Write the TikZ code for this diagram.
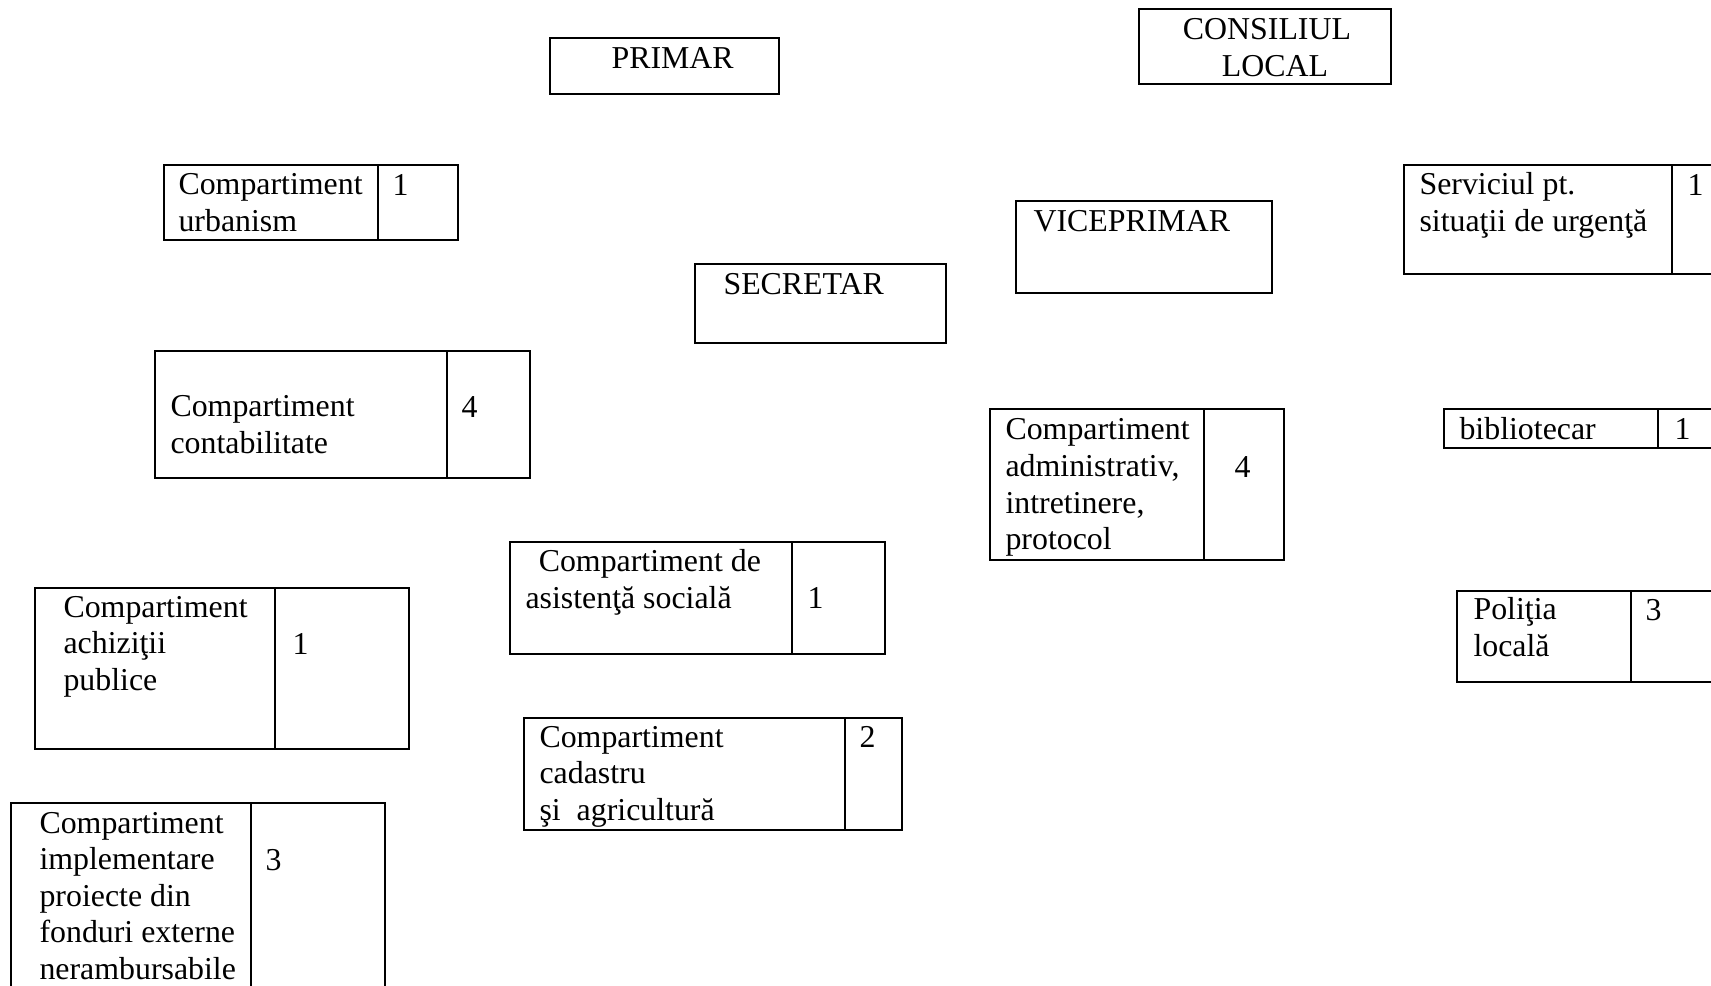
\documentclass[tikz,border=0pt]{standalone}
\usepackage{fontspec}
\setmainfont{Liberation Serif}
\usepackage{tikz}

\begin{document}
\begin{tikzpicture}[x=0.3766pt, y=-0.3766pt]

                    % Styles for the boxes and for the texts inside them
                    % (a text is placed at the baseline of its last line)
                    \tikzset{
                        cell/.style={draw, line width=0.9pt},
                        lbl/.style={anchor=base west, inner sep=0pt, align=left,
                            font=\fontsize{12}{13.8}\selectfont},
                    }

                    % Page size, boxes on the right and bottom are cut off
                    \useasboundingbox (0, 0) rectangle (1711, 985);
                    \clip (0, 0) rectangle (1711, 985);

                    % Top level boxes
                    \begin{scope}[cell]
                        \draw (550, 38) rectangle (779, 94);
                        \draw (1139, 9) rectangle (1391, 84);
                        \draw (695, 264) rectangle (946, 343);
                        \draw (1016, 201) rectangle (1272, 293);
                    \end{scope}

                    \node (primar) at (611, 68) [lbl] {PRIMAR};
                    \node (consiliu) at (1267, 76.6) [lbl, anchor=base, align=center]
                        {CONSILIUL\\\hspace*{6pt}LOCAL};
                    \node (secretar) at (723, 294) [lbl] {SECRETAR};
                    \node (viceprimar) at (1033, 231) [lbl] {VICEPRIMAR};

                    % Compartments, each box has a second cell for the number
                    \begin{scope}[cell]
                        \draw (164, 165) rectangle (458, 240);
                        \draw (378, 165) -- (378, 240);
                        \draw (155, 351) rectangle (530, 478);
                        \draw (447, 351) -- (447, 478);
                        \draw (35, 588) rectangle (409, 749);
                        \draw (275, 588) -- (275, 749);
                        \draw (11, 803) rectangle (385, 1010);
                        \draw (251, 803) -- (251, 1010);
                        \draw (510, 542) rectangle (885, 654);
                        \draw (792, 542) -- (792, 654);
                        \draw (524, 718) rectangle (902, 830);
                        \draw (845, 718) -- (845, 830);
                        \draw (990, 409) rectangle (1284, 560);
                        \draw (1204, 409) -- (1204, 560);
                        \draw (1404, 165) rectangle (1740, 274);
                        \draw (1672, 165) -- (1672, 274);
                        \draw (1444, 409) rectangle (1740, 448);
                        \draw (1658, 409) -- (1658, 448);
                        \draw (1457, 591) rectangle (1740, 682);
                        \draw (1631, 591) -- (1631, 682);
                    \end{scope}

                    \node (urbanism) at (178, 231.6) [lbl] {Compartiment\\urbanism};
                    \node (urbanismnr) at (392, 195) [lbl] {1};
                    \node (contab) at (170, 453.6) [lbl] {Compartiment\\contabilitate};
                    \node (contabnr) at (461, 417) [lbl] {4};
                    \node (achiz) at (63, 690.3) [lbl] {Compartiment\\achiziţii\\publice};
                    \node (achiznr) at (292, 654) [lbl] {1};
                    \node (proiecte) at (39, 979.6) [lbl]
                        {Compartiment\\implementare\\proiecte din\\fonduri externe\\nerambursabile};
                    \node (proiectenr) at (265, 870) [lbl] {3};
                    \node (asist) at (525, 608.6) [lbl]
                        {\hspace*{5pt}Compartiment de\\asistenţă socială};
                    \node (asistnr) at (807, 608) [lbl] {1};
                    \node (cadastru) at (539, 820.3) [lbl]
                        {Compartiment\\cadastru\\şi~~agricultură};
                    \node (cadastrunr) at (859, 747) [lbl] {2};
                    \node (admin) at (1005, 549.9) [lbl]
                        {Compartiment\\administrativ,\\intretinere,\\protocol};
                    \node (adminnr) at (1234, 477) [lbl] {4};
                    \node (urgenta) at (1419, 231.6) [lbl] {Serviciul pt.\\situaţii de urgenţă};
                    \node (urgentanr) at (1687, 195) [lbl] {1};
                    \node (biblio) at (1459, 439) [lbl] {bibliotecar};
                    \node (biblionr) at (1674, 439) [lbl] {1};
                    \node (politia) at (1473, 656.6) [lbl] {Poliţia\\locală};
                    \node (politianr) at (1645, 620) [lbl] {3};

\end{tikzpicture}
\end{document}
